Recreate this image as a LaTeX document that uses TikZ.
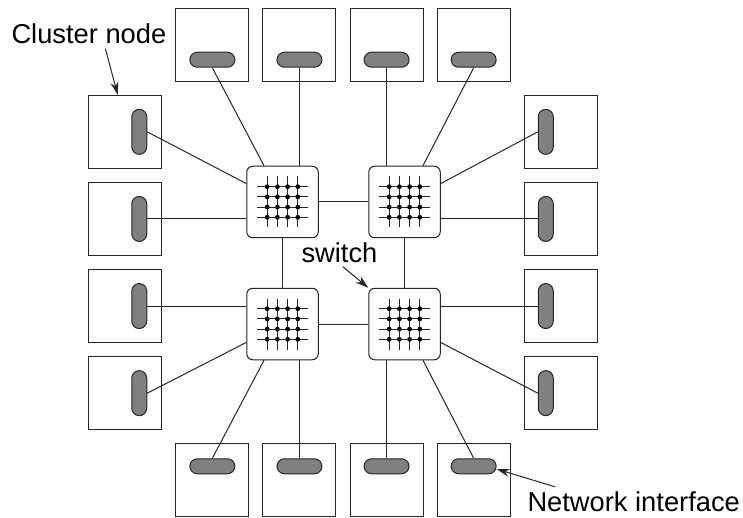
\documentclass[tikz,border=0pt]{standalone}
\usepackage{fontspec}
\setmainfont{Liberation Sans}
\usetikzlibrary{
  arrows.meta,
  matrix,
  positioning
}

\begin{document}
\begin{tikzpicture}[
      x=1pt,y=-1pt,
      line width=1pt,draw=black!85,
      clusternode/.style={
         rectangle,
         minimum size=73pt,
         inner sep=0pt,
         draw=black!85
      },
      hport/.style={
         rectangle,
         rounded corners=7.5pt,
         minimum width=45pt,
         minimum height=15pt,
         inner sep=0pt,
         draw=black!85,
         fill=black!50
      },
      vport/.style={
         rectangle,
         rounded corners=7.5pt,
         minimum width=15pt,
         minimum height=45pt,
         inner sep=0pt,
         draw=black!85,
         fill=black!50
      },
      switchbox/.style={
         rectangle,
         rounded corners=6pt,
         minimum size=71.5pt,
         inner sep=0pt,
         draw=black!85,
         fill=white
      },
      caption/.style={
         inner sep=4pt,
         anchor=base west,
         font=\fontsize{27.3}{30}\selectfont
      },
      pointer/.style={-{Stealth[length=13pt,width=8pt]}},
    ]
    \useasboundingbox (0,0) rectangle (743,518);
    \matrix[column sep=13.1pt, row sep=13.1pt] at (343,262.5) {
 & \node (n12) [clusternode] {}; & \node (n13) [clusternode] {}; & \node (n14) [clusternode] {}; & \node (n15) [clusternode] {}; & \\
\node (n21) [clusternode] {}; &  &  &  &  & \node (n26) [clusternode] {};\\
\node (n31) [clusternode] {}; &  &  &  &  & \node (n36) [clusternode] {};\\
\node (n41) [clusternode] {}; &  &  &  &  & \node (n46) [clusternode] {};\\
\node (n51) [clusternode] {}; &  &  &  &  & \node (n56) [clusternode] {};\\
 & \node (n62) [clusternode] {}; & \node (n63) [clusternode] {}; & \node (n64) [clusternode] {}; & \node (n65) [clusternode] {}; & \\
    };
    % network interfaces
    \node (p12) [hport, below=44pt of n12.north] {};
    \node (p13) [hport, below=44pt of n13.north] {};
    \node (p14) [hport, below=44pt of n14.north] {};
    \node (p15) [hport, below=44pt of n15.north] {};
    \node (p62) [hport, below=15pt of n62.north] {};
    \node (p63) [hport, below=15pt of n63.north] {};
    \node (p64) [hport, below=15pt of n64.north] {};
    \node (p65) [hport, below=15pt of n65.north] {};
    \node (p21) [vport, right=43pt of n21.west] {};
    \node (p31) [vport, right=43pt of n31.west] {};
    \node (p41) [vport, right=43pt of n41.west] {};
    \node (p51) [vport, right=43pt of n51.west] {};
    \node (p26) [vport, right=14pt of n26.west] {};
    \node (p36) [vport, right=14pt of n36.west] {};
    \node (p46) [vport, right=14pt of n46.west] {};
    \node (p56) [vport, right=14pt of n56.west] {};
    % switches
    \node (swa) [switchbox] at (282.5,202) {};
    \node (swb) [switchbox] at (404.5,202) {};
    \node (swc) [switchbox] at (282.5,324) {};
    \node (swd) [switchbox] at (404.5,324) {};
    \foreach \sw in {swa,swb,swc,swd} {
      \begin{scope}[shift={(\sw.center)}]
        \foreach \i in {-15.3,-5.1,5.1,15.3} {
          \draw (\i,-25.5) -- (\i,25.5);
          \draw (-25.5,\i) -- (25.5,\i);
          \foreach \j in {-15.3,-5.1,5.1,15.3}
            \fill[black] (\i,\j) circle (2.4pt);
        }
      \end{scope}
    }
    % links between switches
    \draw (swa) -- (swb);
    \draw (swc) -- (swd);
    \draw (swa) -- (swc);
    \draw (swb) -- (swd);
    % links to the cluster nodes
    \draw (p12.south) -- (swa.117);
    \draw (p13.south) -- (swa.north -| p13.south);
    \draw (p14.south) -- (swb.north -| p14.south);
    \draw (p15.south) -- (swb.63);
    \draw (p21.east) -- (swa.153);
    \draw (p31.east) -- (swa.west |- p31.east);
    \draw (p26.west) -- (swb.27);
    \draw (p36.west) -- (swb.east |- p36.west);
    \draw (p41.east) -- (swc.west |- p41.east);
    \draw (p51.east) -- (swc.207);
    \draw (p46.west) -- (swd.east |- p46.west);
    \draw (p56.west) -- (swd.-27);
    \draw (p62.north) -- (swc.-117);
    \draw (p63.north) -- (swc.south -| p63.north);
    \draw (p64.north) -- (swd.south -| p64.north);
    \draw (p65.north) -- (swd.-63);
    % captions
    \node (capcluster) [caption] at (7,44) {Cluster node};
    \node (capswitch) [caption] at (297,262) {switch};
    \node (capiface) [caption] at (523,511) {Network interface};
    \draw[pointer] ([xshift=16.5pt]capcluster.south) -- ([xshift=-7.5pt]n21.north);
    \draw[pointer] ([xshift=3.5pt]capswitch.south) -- (swd.north west);
    \draw[pointer] ([xshift=-79pt]capiface.north) -- (p65.-7);
\end{tikzpicture}
\end{document}
